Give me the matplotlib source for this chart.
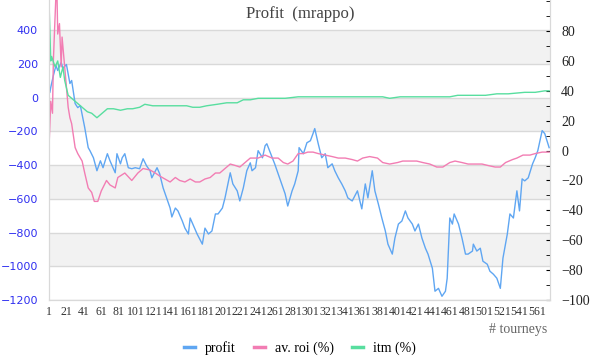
import numpy as np
import matplotlib
matplotlib.use("Agg")
import matplotlib.pyplot as plt
from matplotlib.ticker import MultipleLocator

profit_t = [1, 2, 3, 6, 9, 11, 15, 17, 21, 25, 27, 31, 34, 37, 42, 46, 48, 52, 56, 60,
            63, 68, 71, 77, 79, 83, 85, 88, 92, 96, 100, 105, 109, 113, 117, 119, 125, 128,
            132, 136, 140, 142, 146, 149, 154, 157, 161, 163, 166, 171, 177, 180, 184, 188,
            192, 195, 200, 203, 207, 209, 212, 217, 220, 224, 228, 232, 234, 238, 241, 246,
            249, 251, 255, 260, 264, 268, 272, 275, 280, 283, 287, 288, 293, 297, 301, 304,
            306, 310, 314, 318, 321, 326, 329, 333, 337, 341, 344, 349, 355, 360, 364, 367,
            372, 375, 379, 383, 387, 390, 395, 398, 402, 406, 410, 413, 418, 421, 425, 429,
            433, 436, 441, 444, 448, 452, 456, 458, 461, 464, 466, 471, 475, 479, 482, 487,
            488, 492, 496, 499, 504, 507, 511, 515, 519, 522, 527, 530, 534, 538, 541, 544,
            547, 551, 556, 559, 562, 567, 570, 575]
profit = [54, 30, 60, 130, 190, 160, 208, 173, 196, 83, 101, -36, -60, -48, -178, -297, -315,
          -357, -434, -375, -416, -333, -375, -446, -333, -393, -357, -333, -416, -422, -416,
          -422, -363, -405, -434, -476, -416, -452, -536, -595, -655, -708, -655, -672, -732,
          -774, -809, -714, -750, -809, -869, -774, -809, -791, -690, -690, -655, -595, -494,
          -446, -512, -553, -613, -536, -434, -387, -434, -416, -315, -357, -286, -274, -327,
          -393, -452, -512, -571, -643, -553, -512, -434, -297, -333, -268, -256, -214, -184,
          -274, -357, -333, -416, -393, -434, -476, -512, -553, -595, -613, -553, -660, -512,
          -595, -434, -553, -631, -714, -791, -869, -928, -833, -750, -732, -672, -714, -750,
          -791, -750, -833, -893, -928, -1012, -1148, -1131, -1178, -1148, -1071, -714, -750,
          -690, -750, -833, -928, -928, -910, -869, -910, -893, -970, -988, -1029, -1047,
          -1071, -1131, -952, -809, -690, -714, -553, -672, -482, -494, -476, -393, -357,
          -315, -196, -214, -297]

# average roi (%) (right axis)
roi_t = [1, 3, 5, 6, 9, 10, 11, 13, 15, 16, 19, 23, 25, 27, 31, 34, 39, 42, 46, 50, 53, 57,
         61, 67, 71, 77, 80, 88, 96, 103, 109, 117, 123, 128, 134, 140, 146, 151, 157, 163,
         169, 174, 180, 186, 192, 197, 203, 209, 215, 220, 226, 232, 241, 249, 257, 264,
         270, 275, 281, 287, 293, 298, 304, 310, 318, 326, 333, 341, 349, 355, 361, 369,
         378, 384, 392, 401, 407, 415, 423, 430, 438, 446, 453, 461, 467, 475, 482, 490,
         498, 505, 513, 519, 525, 533, 538, 545, 553, 559, 567, 575]
roi = [2, 33, 25, 60, 105, 110, 78, 85, 56, 76, 56, 29, 22, 18, 2, -2, -7, -15, -25, -28,
       -34, -34, -27, -20, -23, -25, -18, -15, -20, -15, -12, -13, -15, -17, -19, -21, -18,
       -20, -21, -19, -21, -21, -19, -18, -15, -15, -12, -9, -10, -11, -8, -5, -5, -3, -5,
       -5, -8, -9, -7, -2, -2, -1, -1, -2, -3, -4, -5, -5, -6, -7, -5, -4, -5, -8, -9, -8,
       -7, -7, -7, -8, -9, -11, -11, -8, -7, -8, -9, -9, -9, -10, -11, -11, -8, -6, -5, -3,
       -3, -2, -1, -1]

# in the money (%) (right axis)
itm_t = [1, 3, 4, 8, 11, 14, 17, 19, 23, 27, 33, 39, 45, 50, 56, 62, 68, 75, 83, 91, 97,
         105, 111, 120, 128, 136, 143, 151, 159, 166, 174, 182, 194, 205, 217, 224, 232,
         241, 257, 272, 287, 303, 318, 333, 349, 384, 392, 404, 435, 461, 470, 487, 502,
         515, 528, 547, 559, 570, 575]
itm = [100, 60, 63, 56, 60, 49, 56, 47, 37, 35, 32, 29, 26, 25, 22, 25, 28, 28, 27, 28,
       28, 29, 31, 30, 30, 30, 30, 30, 30, 29, 29, 30, 31, 32, 32, 34, 34, 35, 35, 35, 36,
       36, 36, 36, 36, 36, 35, 36, 36, 36, 37, 37, 37, 38, 38, 39, 39, 40, 40]

xticks = list(range(1, 562, 20))

blue = '#5fa6f2'
pink = '#f27db3'
green = '#58de9f'

fig = plt.figure(figsize=(6, 3.6), dpi=100)
ax = fig.add_axes([49 / 600, 60 / 360, 501 / 600, 300 / 360])
ax2 = ax.twinx()

ax.set_xlim(1, 576)
ax.set_ylim(-1200, 578)
ax2.set_ylim(-100, 100.8)

# alternating bands
for lo in [200, -200, -600, -1000]:
    ax.axhspan(lo, lo + 200, color='#f2f2f2', zorder=0, lw=0)
for v in range(-1200, 401, 200):
    ax.axhline(v, color='#d9d9d9', lw=1, zorder=0.5)

ax.plot(profit_t, profit, color=blue, lw=1, zorder=3)
ax2.plot(roi_t, roi, color=pink, lw=1)
ax2.plot(itm_t, itm, color=green, lw=1)

ax.set_yticks(range(-1200, 401, 200))
ax.tick_params(axis='y', length=0, pad=8, labelcolor='#3030f0', labelsize=8)
ax.set_xticks(xticks)
ax.set_xticklabels([str(t) for t in xticks], family='Liberation Serif', fontsize=8.5, color='#333333')
ax.tick_params(axis='x', length=0, pad=4)

ax2.yaxis.set_minor_locator(MultipleLocator(10))
ax2.set_yticks(range(-100, 81, 20))
ax2.tick_params(axis='y', which='both', direction='in', length=3, color='black', pad=8)
for lab in ax2.get_yticklabels():
    lab.set_family('Liberation Serif')
    lab.set_fontsize(10)
    lab.set_color('#222222')

for a in (ax, ax2):
    for s in a.spines.values():
        s.set_color('#d9d9d9')
    a.spines['top'].set_visible(False)

fig.text(0.5, 1 - 14 / 360, 'Profit  (mrappo)', ha='center', va='center',
         family='Liberation Serif', fontsize=12, color='#444444')
fig.text(547 / 600, 1 - 330 / 360, '# tourneys', ha='right', va='center',
         family='Liberation Serif', fontsize=10, color='#666666')

handles = [plt.Line2D([], [], color=c, lw=2.5) for c in (blue, pink, green)]
fig.legend(handles, ['profit', 'av. roi (%)', 'itm (%)'], loc='center',
           bbox_to_anchor=(0.5, 1 - 348 / 360), ncol=3, frameon=False,
           handlelength=0.8, columnspacing=1.3, handletextpad=0.7,
           prop={'family': 'Liberation Serif', 'size': 10})

fig.savefig('out.png', dpi=100)
